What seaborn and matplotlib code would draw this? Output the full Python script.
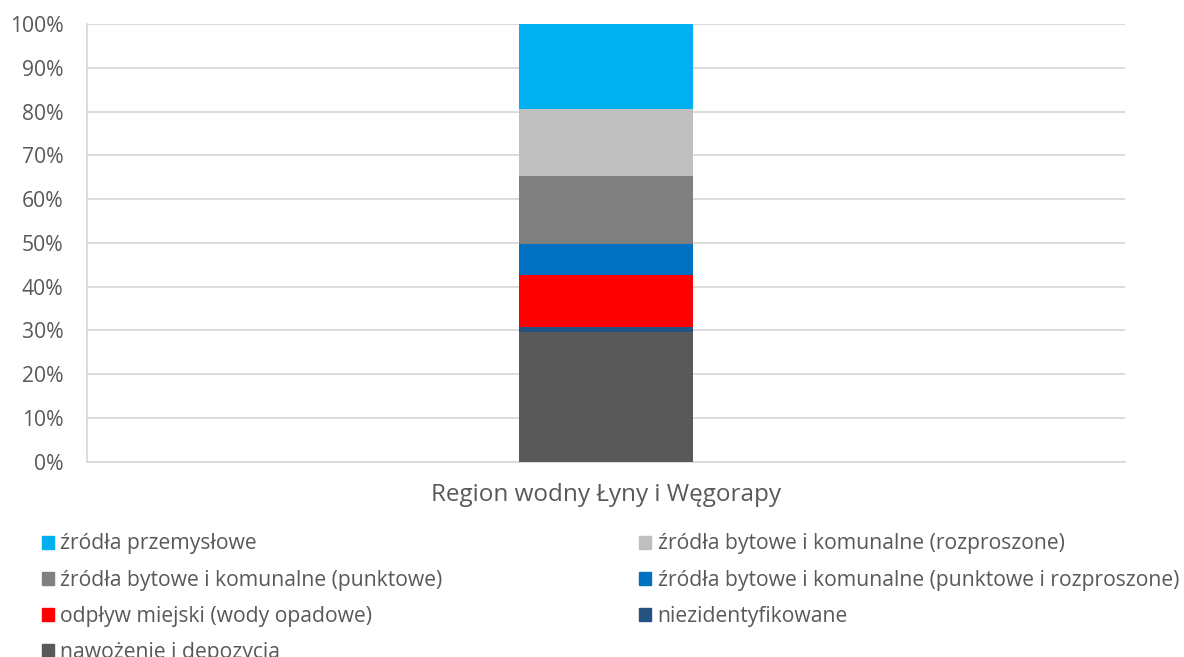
import pandas as pd
import matplotlib.pyplot as plt
import matplotlib.patches as mpatches
import seaborn as sns
from matplotlib.ticker import PercentFormatter

# Data (shares in %, bottom to top)
category = "Region wodny Łyny i Węgorapy"
sources = [
    "nawożenie i depozycja",
    "niezidentyfikowane",
    "odpływ miejski (wody opadowe)",
    "źródła bytowe i komunalne (punktowe i rozproszone)",
    "źródła bytowe i komunalne (punktowe)",
    "źródła bytowe i komunalne (rozproszone)",
    "źródła przemysłowe",
]
shares = [29.6, 1.1, 11.9, 7.1, 15.5, 15.3, 19.5]
colors = ["#595959", "#255283", "#FF0000", "#0070C0", "#808080", "#BFBFBF", "#00B0F0"]

sns.set_style("white")
plt.rcParams['font.family'] = ['Open Sans', 'DejaVu Sans']
text_color = "#595959"
grid_color = "#D9D9D9"

df = pd.DataFrame({"source": sources, "share": shares, "color": colors})
df["cum"] = df["share"].cumsum()

fig = plt.figure(figsize=(11.84, 6.57), dpi=100)
ax = fig.add_axes([0.0735, 0.2973, 0.8767, 0.6662])

# stacked bar: draw cumulative totals from the top down
for _, row in df[::-1].iterrows():
    sns.barplot(x=[category], y=[row["cum"]], color=row["color"],
                width=0.167, saturation=1, linewidth=0, ax=ax, zorder=3)

ax.set_ylim(0, 100)
ax.set_xlim(-0.5, 0.5)
ax.set_yticks(range(0, 101, 10))
ax.yaxis.set_major_formatter(PercentFormatter(decimals=0))
ax.grid(axis="y", color=grid_color, linewidth=1.3, zorder=0)
ax.set_axisbelow(True)

for side in ["top", "right"]:
    ax.spines[side].set_visible(False)
for side in ["left", "bottom"]:
    ax.spines[side].set_color(grid_color)
    ax.spines[side].set_linewidth(1.3)

ax.tick_params(axis="y", colors=grid_color, length=6, width=1.3,
               labelcolor=text_color, labelsize=15.2, pad=11)
ax.tick_params(axis="x", length=0, labelcolor=text_color, labelsize=17.5, pad=15)
ax.set_xlabel("")
ax.set_ylabel("")

# legend in Excel order, two columns filled row-wise
order = [6, 5, 4, 3, 2, 1, 0]
handles = [mpatches.Patch(color=df.loc[i, "color"], label=df.loc[i, "source"]) for i in order]
left_col = handles[0::2]
right_col = handles[1::2]

leg_kw = dict(loc="upper left", frameon=False, fontsize=15.2, labelcolor=text_color,
              handlelength=0.57, handleheight=0.57, handletextpad=0.3,
              labelspacing=0.72, borderpad=0, borderaxespad=0)
leg1 = fig.legend(handles=left_col, bbox_to_anchor=(0.0355, 0.188), **leg_kw)
leg2 = fig.legend(handles=right_col, bbox_to_anchor=(0.540, 0.188), **leg_kw)

plt.savefig("out.png", dpi=100)
